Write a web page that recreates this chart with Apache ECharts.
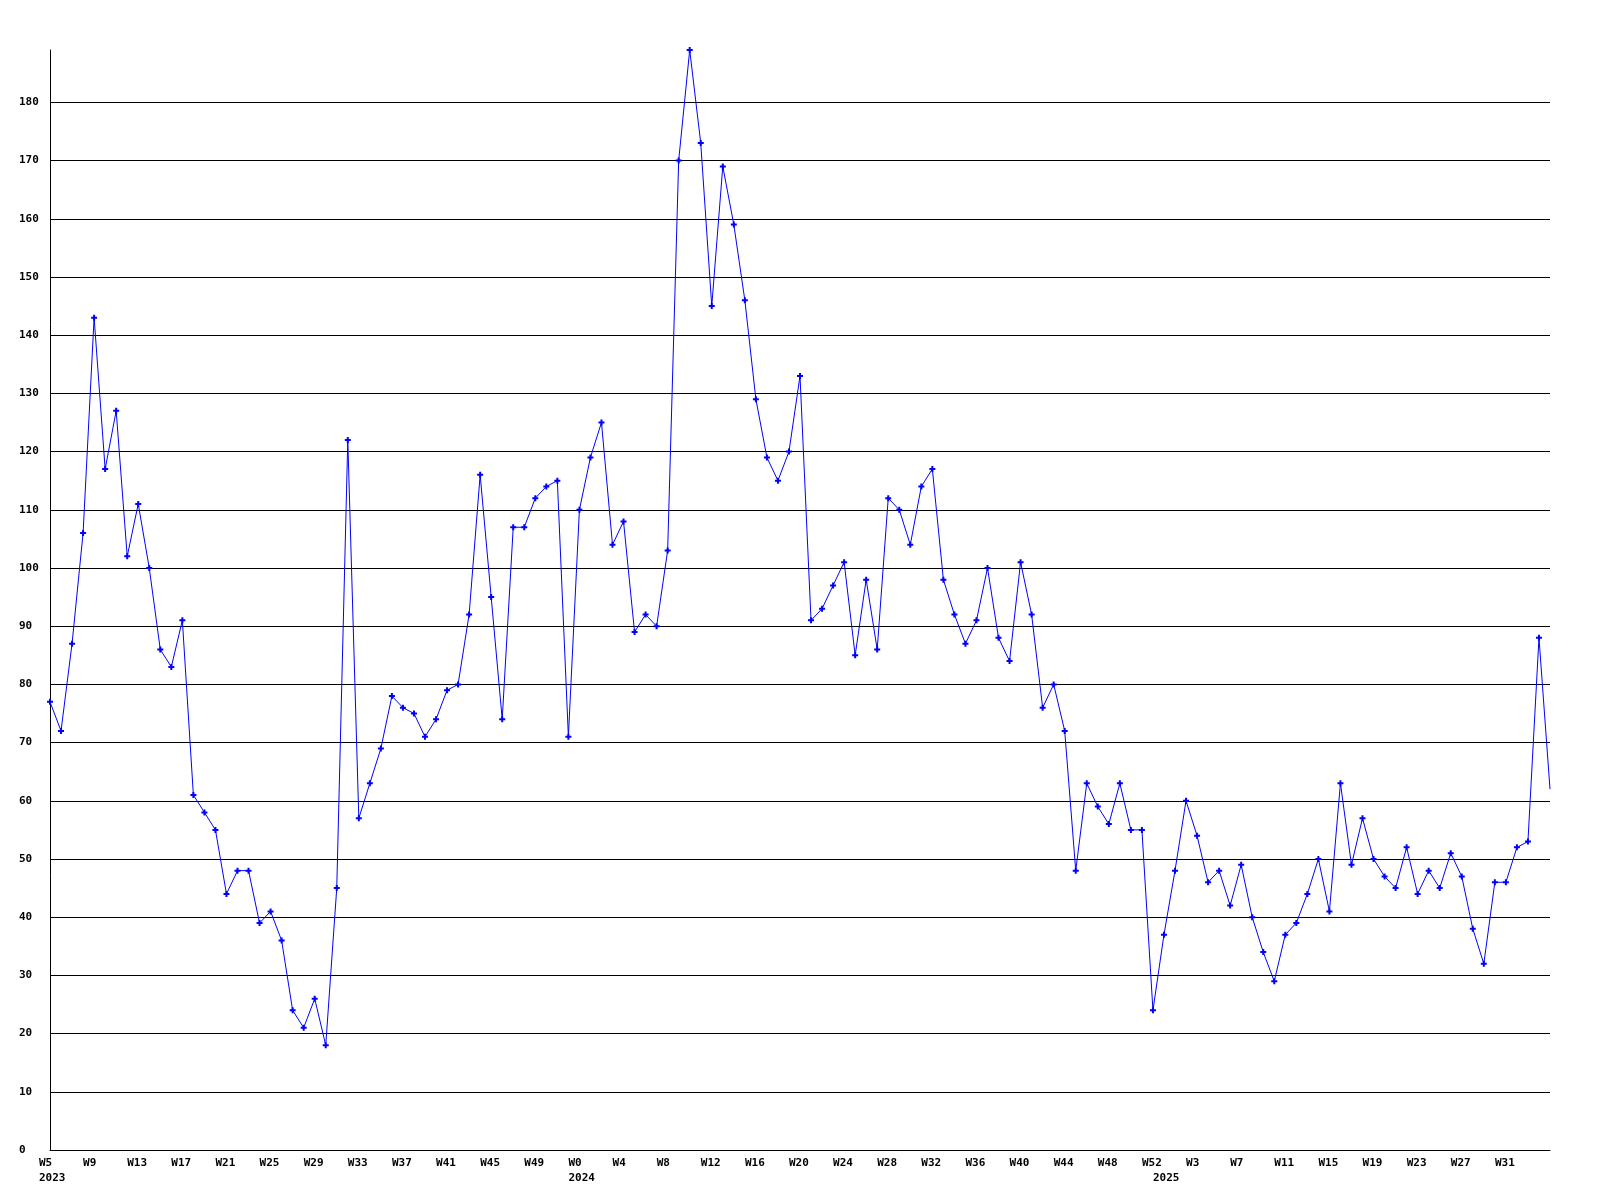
<!DOCTYPE html>
<html>
<head>
<meta charset="utf-8">
<script src="https://cdn.jsdelivr.net/npm/echarts@6/dist/echarts.min.js"></script>
<style>
  html, body { margin: 0; padding: 0; background: #ffffff; }
  #chart { width: 1600px; height: 1200px; }
</style>
</head>
<body>
<div id="chart"></div>
<script>
// Week ranges per year (x categories)
const year2023Weeks = { year: 2023, first: 5, last: 52 };
const year2024Weeks = { year: 2024, first: 0, last: 52 };
const year2025Weeks = { year: 2025, first: 0, last: 35 };

// Weekly values
const values2023 = [77, 72, 87, 106, 143, 117, 127, 102, 111, 100, 86, 83, 91, 61, 58, 55,
  44, 48, 48, 39, 41, 36, 24, 21, 26, 18, 45, 122, 57, 63, 69, 78,
  76, 75, 71, 74, 79, 80, 92, 116, 95, 74, 107, 107, 112, 114, 115, 71];
const values2024 = [110, 119, 125, 104, 108, 89, 92, 90, 103, 170, 189, 173, 145, 169, 159, 146,
  129, 119, 115, 120, 133, 91, 93, 97, 101, 85, 98, 86, 112, 110, 104, 114,
  117, 98, 92, 87, 91, 100, 88, 84, 101, 92, 76, 80, 72, 48, 63, 59,
  56, 63, 55, 55, 24];
const values2025 = [37, 48, 60, 54, 46, 48, 42, 49, 40, 34, 29, 37, 39, 44, 50, 41,
  63, 49, 57, 50, 47, 45, 52, 44, 48, 45, 51, 47, 38, 32, 46, 46,
  52, 53, 88, 62];

// y-axis ticks
const yMin = 0, yMax = 189, yStep = 10;

const categories = [];
const yearOfIndex = [];
const weekOfIndex = [];
[year2023Weeks, year2024Weeks, year2025Weeks].forEach(function (y) {
  for (let w = y.first; w <= y.last; w++) {
    categories.push(y.year + '-W' + w);
    yearOfIndex.push(y.year);
    weekOfIndex.push(w);
  }
});
const values = values2023.concat(values2024, values2025);
const lastIdx = values.length - 1;

function isYearStart(i) {
  return i === 0 || yearOfIndex[i] !== yearOfIndex[i - 1];
}

const seriesData = values.map(function (v, i) {
  return i === lastIdx ? { value: v, symbol: 'none' } : v;
});

// split line colours: one per tick (0..180 plus the max tick), the max one hidden
const nTicks = Math.floor((yMax - yMin) / yStep) + 1;
const splitColors = [];
for (let i = 0; i < nTicks; i++) splitColors.push('#000000');
splitColors.push('rgba(0,0,0,0)');

const font = { fontFamily: 'DejaVu Sans Mono', fontWeight: 'bold', fontSize: 11, color: '#000000' };

const chart = echarts.init(document.getElementById('chart'), null, { renderer: 'canvas' });
chart.setOption({
  animation: false,
  backgroundColor: '#ffffff',
  grid: { left: 50, right: 50, top: 50, bottom: 50, containLabel: false },
  xAxis: {
    type: 'category',
    boundaryGap: false,
    data: categories,
    axisLine: { show: true, lineStyle: { color: '#000000', width: 1 } },
    axisTick: { show: false },
    splitLine: { show: false },
    axisLabel: Object.assign({}, font, {
      margin: 6,
      lineHeight: 15,
      align: 'left',
      padding: [0, 0, 0, -11],
      interval: function (i) {
        return (i % 4 === 0 && i !== lastIdx) || isYearStart(i);
      },
      formatter: function (val, i) {
        const wk = (i % 4 === 0) ? 'W' + weekOfIndex[i] : ' ';
        return isYearStart(i) ? wk + '\n' + yearOfIndex[i] : wk;
      }
    })
  },
  yAxis: {
    type: 'value',
    min: yMin,
    max: yMax,
    interval: yStep,
    axisLine: { show: true, lineStyle: { color: '#000000', width: 1 } },
    axisTick: { show: false },
    splitLine: { show: true, lineStyle: { color: splitColors, width: 1 } },
    axisLabel: Object.assign({}, font, {
      align: 'left',
      margin: 31,
      showMaxLabel: false,
      formatter: function (v) { return (v % yStep === 0) ? String(v) : ''; }
    })
  },
  series: [{
    type: 'line',
    data: seriesData,
    showAllSymbol: true,
    symbol: 'path://M2,0H4V2H6V4H4V6H2V4H0V2H2Z',
    symbolSize: 6,
    itemStyle: { color: '#0000ff' },
    lineStyle: { color: '#0000ff', width: 1 },
    clip: true
  }]
});
</script>
</body>
</html>
